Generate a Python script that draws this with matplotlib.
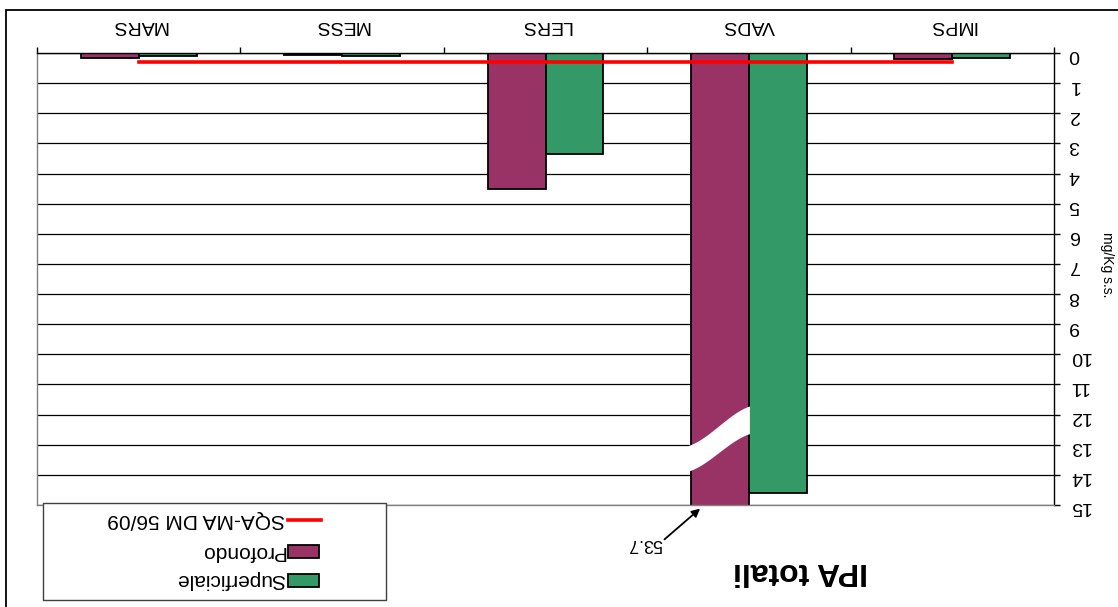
import numpy as np
import matplotlib

matplotlib.use("Agg")
import matplotlib.pyplot as plt
from matplotlib.patches import Polygon, Rectangle
from matplotlib.lines import Line2D

plt.rcParams["font.family"] = ["Liberation Sans", "DejaVu Sans"]

# IPA totali per station, mg/Kg s.s.
categories = ["IMPS", "VADS", "LERS", "MESS", "MARS"]
profondo = [0.20, 53.7, 4.5, 0.08, 0.15]
superficiale = [0.18, 14.6, 3.35, 0.11, 0.11]
sqa_limit = [0.3, 0.3, 0.3, 0.3, 0.3]
y_ticks = list(range(0, 16))

PURPLE = "#993366"
GREEN = "#339966"
RED = "#ff0000"
W_PX, H_PX = 1118, 607
BAR_W = 0.285
Y_MAX = 15


def at(px, py):
    # pixel position (origin top-left) -> figure fraction
    return px / W_PX, 1 - py / H_PX


fig = plt.figure(figsize=(W_PX / 100, H_PX / 100), dpi=100)
ax = fig.add_axes([37 / W_PX, 1 - 505 / H_PX, (1054 - 37) / W_PX, (505 - 53) / H_PX])

# chart area frame (only left and top edges fall inside the canvas)
fx, fy = at(6, 10)
fig.add_artist(Rectangle((fx, -0.5), 1.5, fy + 0.5, transform=fig.transFigure,
                         fill=False, ec="black", lw=1.3))

x = np.arange(len(categories))
ax.bar(x + BAR_W / 2, profondo, BAR_W, color=PURPLE, edgecolor="black", lw=1.3, zorder=2)
ax.bar(x - BAR_W / 2, superficiale, BAR_W, color=GREEN, edgecolor="black", lw=1.3, zorder=2)
ax.plot(x, sqa_limit, color=RED, lw=2.6, zorder=4)

# axis break on the off-scale bar
big = int(np.argmax(profondo))
t = np.linspace(0, 1, 40)
s = 0.5 * t + 0.5 * (3 * t ** 2 - 2 * t ** 3)
xs = big + BAR_W + 0.01 - t * (BAR_W + 0.015)
upper = 13.04 - 1.31 * s
lower = 13.89 - 1.24 * s
band = np.column_stack([np.concatenate([xs, xs[::-1]]),
                        np.concatenate([upper, lower[::-1]])])
ax.add_patch(Polygon(band, closed=True, fc="white", ec="none", zorder=3))

ax.set_xlim(len(categories) - 0.5, -0.5)
ax.set_ylim(Y_MAX, 0)

ax.yaxis.tick_right()
ax.set_yticks(y_ticks)
ax.set_yticklabels([str(v) for v in y_ticks])
ax.tick_params(axis="y", direction="out", length=4.5, width=1, pad=6,
               labelsize=14, labelrotation=180)
ax.yaxis.grid(True, color="black", lw=0.9)
ax.set_axisbelow(True)

ax.xaxis.tick_top()
ax.set_xticks(np.arange(-0.5, len(categories), 1))
ax.set_xticklabels([])
ax.set_xticks(x, minor=True)
ax.set_xticklabels(categories, minor=True)
ax.tick_params(axis="x", which="major", direction="out", length=4, width=1)
ax.tick_params(axis="x", which="minor", length=0, pad=14, labelsize=14, labelrotation=180)

for side in ("left", "bottom"):
    ax.spines[side].set_color("#808080")
for side in ("right", "top"):
    ax.spines[side].set_color("black")
for sp in ax.spines.values():
    sp.set_linewidth(1)

# off-scale value callout
ax.annotate("", xy=(big + 0.24, 15.12), xytext=(big + 0.415, 16.14),
            arrowprops=dict(arrowstyle="-|>", color="black", lw=1.3, mutation_scale=12,
                            shrinkA=0, shrinkB=0),
            annotation_clip=False)
ax.text(big + 0.425, 16.12, f"{profondo[big]:.1f}", rotation=180, rotation_mode="anchor",
        ha="left", va="baseline", fontsize=13, clip_on=False)

fig.text(*at(801, 571), "IPA totali", rotation=180, ha="center", va="center",
         fontsize=23, fontweight="bold")
fig.text(*at(1107, 265), "mg/Kg s.s.", rotation=270, ha="center", va="center",
         fontsize=10)

# legend box
lx0, ly0 = at(43, 600)
lx1, ly1 = at(386, 503)
fig.add_artist(Rectangle((lx0, ly0), lx1 - lx0, ly1 - ly0, transform=fig.transFigure,
                         fc="white", ec="#404040", lw=1))
entries = [("line", RED, "SQA-MA DM 56/09", 520),
           ("box", PURPLE, "Profondo", 551),
           ("box", GREEN, "Superficiale", 580)]
for kind, color, label, py in entries:
    if kind == "line":
        fig.add_artist(Line2D([288 / W_PX, 321 / W_PX], [1 - py / H_PX] * 2,
                              transform=fig.transFigure, color=color, lw=2.6))
    else:
        bx, by = at(288, py + 6.5)
        fig.add_artist(Rectangle((bx, by), 31 / W_PX, 13 / H_PX, transform=fig.transFigure,
                                 fc=color, ec="black", lw=1.3))
    fig.text(*at(285, py), label, rotation=180, rotation_mode="anchor",
             ha="left", va="center", fontsize=15)

fig.savefig("out.png", dpi=100)
